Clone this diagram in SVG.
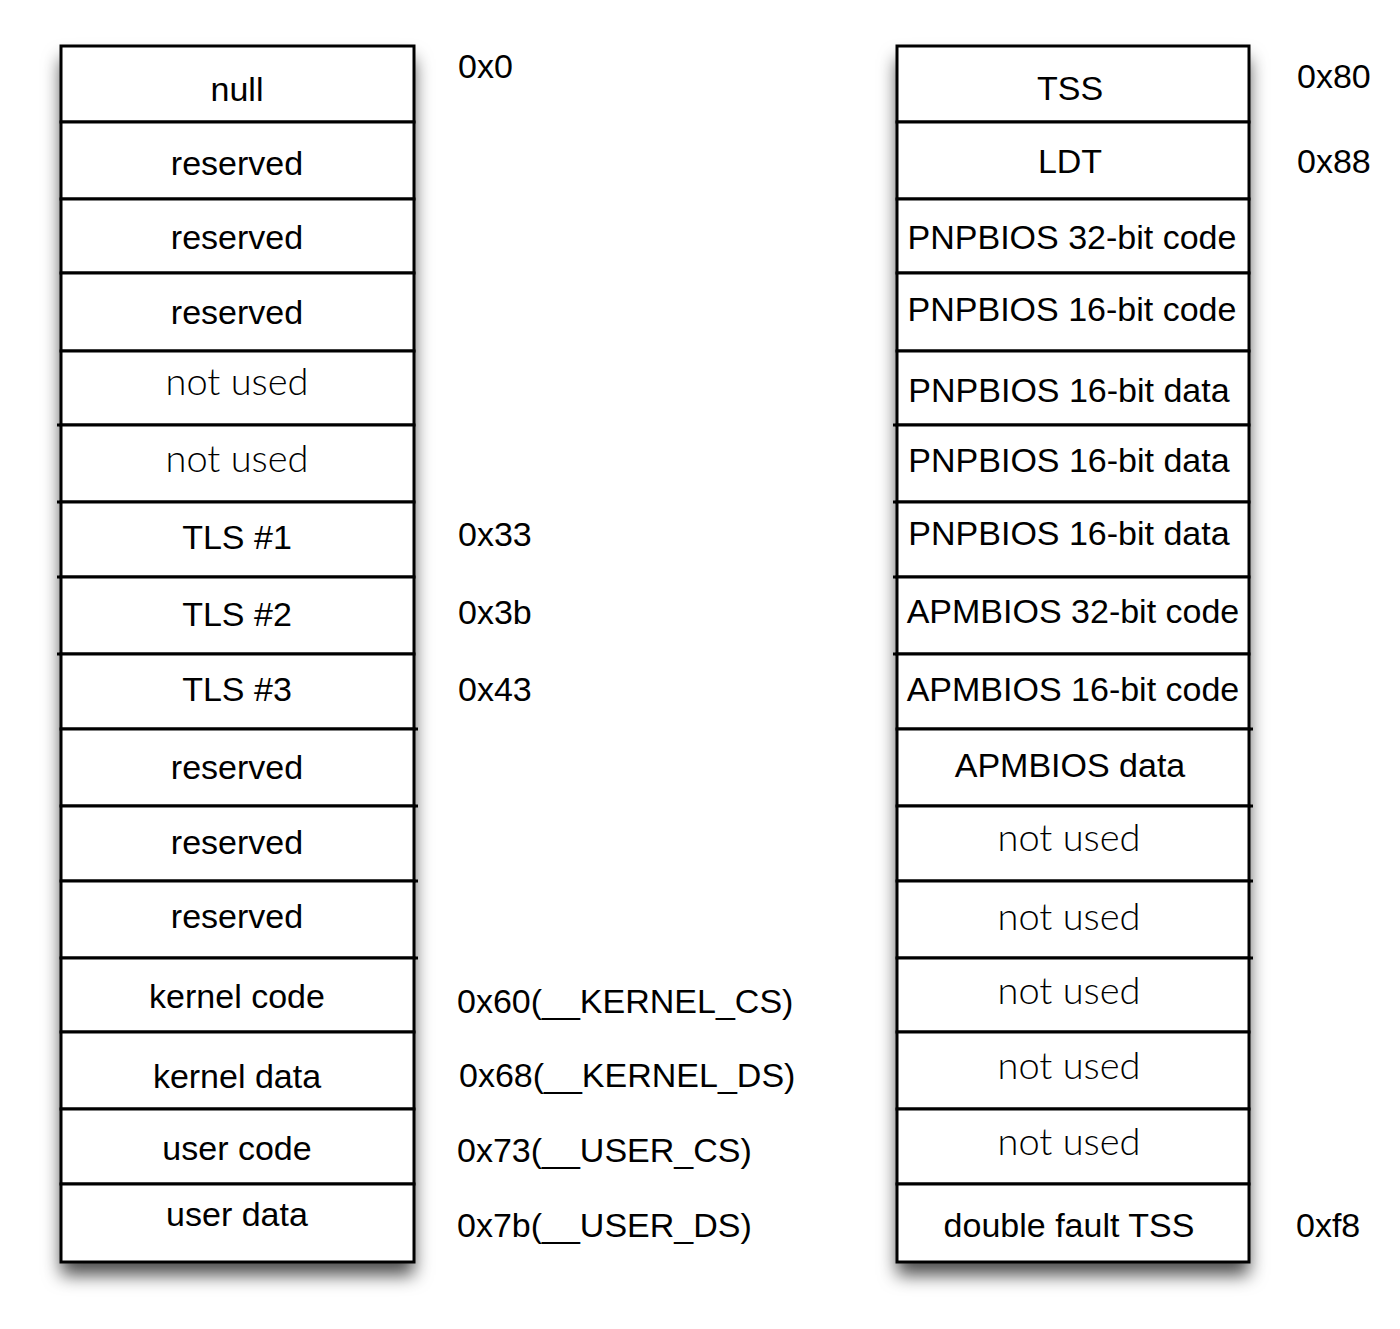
<svg xmlns="http://www.w3.org/2000/svg" width="1400" height="1329" viewBox="0 0 1400 1329">
<style>
.cell{fill:#fff;stroke:#000;stroke-width:3}
.t{font-family:"Liberation Sans",Arial,sans-serif;font-size:34px;fill:#000;text-anchor:middle}
.g{font-family:"Lato","Noto Sans",sans-serif;font-weight:300;font-size:38px;fill:#000;text-anchor:middle}
.lbl{font-family:"Liberation Sans",Arial,sans-serif;font-size:34px;fill:#000}
.ext{stroke:#000;stroke-width:3}
</style>
<defs>
<filter id="sh" x="-15%" y="-5%" width="130%" height="115%">
<feDropShadow dx="0" dy="13" stdDeviation="9" flood-color="#000" flood-opacity="0.7"/>
</filter>
</defs>
<rect x="61" y="46" width="353" height="1216" fill="#fff" filter="url(#sh)"/>
<rect x="897" y="46" width="352" height="1216" fill="#fff" filter="url(#sh)"/>
<g id="left">
<g id="l0"><rect class="cell" x="61" y="46" width="353" height="76"/><text class="t" x="237" y="101">null</text></g>
<g id="l1"><rect class="cell" x="61" y="122" width="353" height="77"/><text class="t" x="237" y="175">reserved</text></g>
<g id="l2"><rect class="cell" x="61" y="199" width="353" height="74"/><text class="t" x="237" y="249">reserved</text></g>
<g id="l3"><rect class="cell" x="61" y="273" width="353" height="78"/><text class="t" x="237" y="324">reserved</text></g>
<g id="l4"><rect class="cell" x="61" y="351" width="353" height="74"/><text class="g" x="237" y="395">not used</text></g>
<g id="l5"><rect class="cell" x="61" y="425" width="353" height="77"/><text class="g" x="237" y="472">not used</text></g>
<g id="l6"><rect class="cell" x="61" y="502" width="353" height="75"/><text class="t" x="237" y="549">TLS #1</text></g>
<g id="l7"><rect class="cell" x="61" y="577" width="353" height="77"/><text class="t" x="237" y="626">TLS #2</text></g>
<g id="l8"><rect class="cell" x="61" y="654" width="353" height="75"/><text class="t" x="237" y="701">TLS #3</text></g>
<g id="l9"><rect class="cell" x="61" y="729" width="353" height="77"/><text class="t" x="237" y="779">reserved</text></g>
<g id="l10"><rect class="cell" x="61" y="806" width="353" height="75"/><text class="t" x="237" y="854">reserved</text></g>
<g id="l11"><rect class="cell" x="61" y="881" width="353" height="77"/><text class="t" x="237" y="928">reserved</text></g>
<g id="l12"><rect class="cell" x="61" y="958" width="353" height="74"/><text class="t" x="237" y="1008">kernel code</text></g>
<g id="l13"><rect class="cell" x="61" y="1032" width="353" height="77"/><text class="t" x="237" y="1088">kernel data</text></g>
<g id="l14"><rect class="cell" x="61" y="1109" width="353" height="75"/><text class="t" x="237" y="1160">user code</text></g>
<g id="l15"><rect class="cell" x="61" y="1184" width="353" height="78"/><text class="t" x="237" y="1226">user data</text></g>
</g>
<g id="right">
<g id="r0"><rect class="cell" x="897" y="46" width="352" height="76"/><text class="t" x="1070" y="100">TSS</text></g>
<g id="r1"><rect class="cell" x="897" y="122" width="352" height="77"/><text class="t" x="1070" y="173">LDT</text></g>
<g id="r2"><rect class="cell" x="897" y="199" width="352" height="74"/><text class="t" x="1072" y="249">PNPBIOS 32-bit code</text></g>
<g id="r3"><rect class="cell" x="897" y="273" width="352" height="78"/><text class="t" x="1072" y="321">PNPBIOS 16-bit code</text></g>
<g id="r4"><rect class="cell" x="897" y="351" width="352" height="74"/><text class="t" x="1069" y="402">PNPBIOS 16-bit data</text></g>
<g id="r5"><rect class="cell" x="897" y="425" width="352" height="77"/><text class="t" x="1069" y="472">PNPBIOS 16-bit data</text></g>
<g id="r6"><rect class="cell" x="897" y="502" width="352" height="75"/><text class="t" x="1069" y="545">PNPBIOS 16-bit data</text></g>
<g id="r7"><rect class="cell" x="897" y="577" width="352" height="77"/><text class="t" x="1073" y="623">APMBIOS 32-bit code</text></g>
<g id="r8"><rect class="cell" x="897" y="654" width="352" height="75"/><text class="t" x="1073" y="701">APMBIOS 16-bit code</text></g>
<g id="r9"><rect class="cell" x="897" y="729" width="352" height="77"/><text class="t" x="1070" y="777">APMBIOS data</text></g>
<g id="r10"><rect class="cell" x="897" y="806" width="352" height="75"/><text class="g" x="1069" y="851">not used</text></g>
<g id="r11"><rect class="cell" x="897" y="881" width="352" height="77"/><text class="g" x="1069" y="930">not used</text></g>
<g id="r12"><rect class="cell" x="897" y="958" width="352" height="74"/><text class="g" x="1069" y="1004">not used</text></g>
<g id="r13"><rect class="cell" x="897" y="1032" width="352" height="77"/><text class="g" x="1069" y="1079">not used</text></g>
<g id="r14"><rect class="cell" x="897" y="1109" width="352" height="75"/><text class="g" x="1069" y="1155">not used</text></g>
<g id="r15"><rect class="cell" x="897" y="1184" width="352" height="78"/><text class="t" x="1069" y="1237">double fault TSS</text></g>
</g>
<g id="connectors">
<line class="ext" x1="57" y1="425" x2="62" y2="425"/>
<line class="ext" x1="57" y1="502" x2="62" y2="502"/>
<line class="ext" x1="57" y1="577" x2="62" y2="577"/>
<line class="ext" x1="57" y1="654" x2="62" y2="654"/>
<line class="ext" x1="413" y1="729" x2="418" y2="729"/>
<line class="ext" x1="413" y1="806" x2="418" y2="806"/>
<line class="ext" x1="413" y1="881" x2="418" y2="881"/>
<line class="ext" x1="413" y1="958" x2="418" y2="958"/>
<line class="ext" x1="893" y1="425" x2="898" y2="425"/>
<line class="ext" x1="893" y1="502" x2="898" y2="502"/>
<line class="ext" x1="893" y1="577" x2="898" y2="577"/>
<line class="ext" x1="893" y1="654" x2="898" y2="654"/>
<line class="ext" x1="1248" y1="729" x2="1253" y2="729"/>
<line class="ext" x1="1248" y1="806" x2="1253" y2="806"/>
<line class="ext" x1="1248" y1="881" x2="1253" y2="881"/>
<line class="ext" x1="1248" y1="958" x2="1253" y2="958"/>
</g>
<g id="labels">
<text class="lbl" x="458" y="78">0x0</text>
<text class="lbl" x="458" y="546">0x33</text>
<text class="lbl" x="458" y="624">0x3b</text>
<text class="lbl" x="458" y="701">0x43</text>
<text class="lbl" x="457" y="1013">0x60(__KERNEL_CS)</text>
<text class="lbl" x="459" y="1087">0x68(__KERNEL_DS)</text>
<text class="lbl" x="457" y="1162">0x73(__USER_CS)</text>
<text class="lbl" x="457" y="1237">0x7b(__USER_DS)</text>
<text class="lbl" x="1297" y="88">0x80</text>
<text class="lbl" x="1297" y="173">0x88</text>
<text class="lbl" x="1296" y="1237">0xf8</text>
</g>
</svg>
